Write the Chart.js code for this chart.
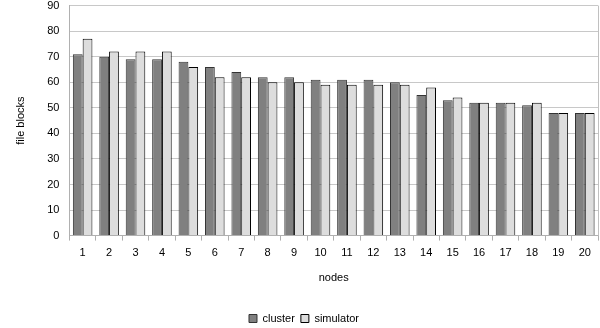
<!DOCTYPE html>
<html>
<head>
<meta charset="utf-8">
<script src="https://cdn.jsdelivr.net/npm/chart.js@4/dist/chart.umd.min.js"></script>
<style>
  html, body { margin: 0; padding: 0; background: #fff; overflow: hidden; }
  #wrap { position: absolute; left: 0; top: -11px; width: 600px; height: 345px; }
</style>
</head>
<body>
<div id="wrap"><canvas id="chartjs"></canvas></div>
<script>
var nodes = ["1","2","3","4","5","6","7","8","9","10","11","12","13","14","15","16","17","18","19","20"];
var clusterBlocks = [71, 70, 69, 69, 68, 66, 64, 62, 62, 61, 61, 61, 60, 55, 53, 52, 52, 51, 48, 48];
var simulatorBlocks = [77, 72, 72, 72, 66, 62, 62, 60, 60, 59, 59, 59, 59, 58, 54, 52, 52, 52, 48, 48];
var yTicks = [0, 10, 20, 30, 40, 50, 60, 70, 80, 90];

// right-hand frame line of the plot area
var frameRight = {
  id: "frameRight",
  afterDraw: function (chart) {
    var a = chart.chartArea;
    var c = chart.ctx;
    c.save();
    c.strokeStyle = "#c0c0c0";
    c.lineWidth = 1;
    c.beginPath();
    c.moveTo(Math.round(a.right) + 0.5, a.top);
    c.lineTo(Math.round(a.right) + 0.5, a.bottom);
    c.stroke();
    c.restore();
  }
};

Chart.defaults.font.family = "'Liberation Sans', Arial, sans-serif";
Chart.defaults.font.size = 11;
Chart.defaults.color = "#333";

var ctx0 = document.getElementById("chartjs");
var myChart = new Chart(ctx0, {
  type: "bar",
  data: {
    labels: nodes,
    datasets: [
      {
        label: "cluster",
        data: clusterBlocks,
        backgroundColor: "#808080",
        borderColor: "#333333",
        borderWidth: 1,
        borderSkipped: "bottom"
      },
      {
        label: "simulator",
        data: simulatorBlocks,
        backgroundColor: "#dddddd",
        borderColor: "#000000",
        borderWidth: 1,
        borderSkipped: "bottom"
      }
    ]
  },
  options: {
    responsive: true,
    maintainAspectRatio: false,
    animation: false,
    layout: { padding: { left: 10, right: 2, top: 0, bottom: 0 } },
    datasets: { bar: { categoryPercentage: 0.74, barPercentage: 1 } },
    plugins: {
      tooltip: { enabled: false },
      legend: {
        position: "bottom",
        labels: {
          boxWidth: 8,
          boxHeight: 8,
          padding: 6,
          color: "#000",
          font: { size: 11 }
        }
      }
    },
    scales: {
      x: {
        grid: {
          offset: true,
          drawOnChartArea: false,
          drawTicks: true,
          tickLength: 5,
          color: "#b0b0b0"
        },
        border: { color: "#b0b0b0" },
        ticks: { color: "#000", padding: 6 },
        title: { display: true, text: "nodes", color: "#000", padding: { top: 6, bottom: 22 } }
      },
      y: {
        min: 0,
        max: 90,
        afterBuildTicks: function (axis) {
          axis.ticks = yTicks.map(function (v) { return { value: v }; });
        },
        grid: { color: "#c8c8c8", drawTicks: false },
        border: { color: "#b0b0b0" },
        ticks: { color: "#000", padding: 10 },
        title: { display: true, text: "file blocks", color: "#000", padding: { bottom: 10 } }
      }
    }
  },
  plugins: [frameRight]
});
</script>
</body>
</html>
